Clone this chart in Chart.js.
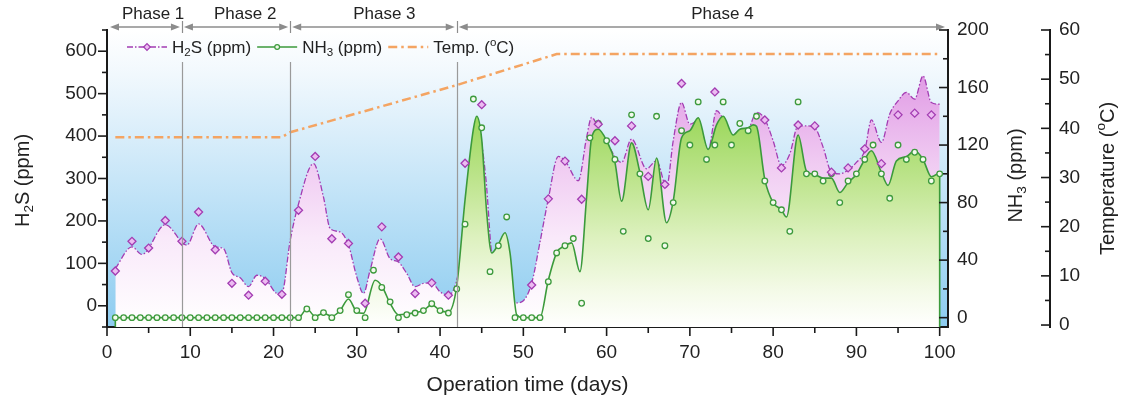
<!DOCTYPE html>
<html>
<head>
<meta charset="utf-8">
<script src="https://cdn.jsdelivr.net/npm/chart.js@4.4.1/dist/chart.umd.min.js"></script>
<style>
  html, body { margin: 0; padding: 0; background: #fff; }
  #grafico { display: block; }
</style>
</head>
<body>
<canvas id="grafico" width="1121" height="406"></canvas>
<script>
var fonte = '"Liberation Sans", Arial, sans-serif';

// H2S medido (pontos)
var h2sDias = [1, 3, 5, 7, 9, 11, 13, 15, 17, 19, 21, 23, 25, 27, 29, 31, 33, 35, 37, 39, 41, 43, 45,
  51, 53, 55, 57, 59, 61, 63, 65, 67, 69, 73, 79, 81, 83, 85, 87, 89, 91, 93, 95, 97, 99];
var h2sPpm = [82, 152, 136, 201, 152, 221, 132, 53, 25, 58, 27, 225, 352, 158, 147, 6, 186, 115, 29, 54, 25, 336, 474,
  49, 252, 341, 251, 428, 389, 424, 305, 286, 524, 504, 438, 325, 426, 424, 315, 325, 370, 335, 450, 454, 450];

// curva suavizada do H2S
var h2sCurvaDias = [1, 3, 4.2, 7, 9.6, 11, 13, 14, 15, 16, 17, 18, 19, 20.5, 21, 22, 23, 24.8, 26, 26.8, 28, 29, 30, 30.8,
  31.6, 32.8, 34, 35, 36, 37, 38, 39, 40, 41, 42, 43, 44, 44.6, 45.5, 46.2, 47, 48, 49.2, 50, 51, 52, 53, 54.2, 55,
  56.6, 57.6, 58.2, 59, 60, 61.8, 63, 64.8, 66, 67.2, 68, 69, 70, 71, 72.2, 73.2, 74, 75, 76, 77, 78, 79, 80, 81, 82,
  83, 84, 85, 86, 87, 88, 89, 90, 91, 91.8, 93, 94, 95, 96, 97, 98, 99, 100];
var h2sCurvaPpm = [88, 139, 121, 191, 143, 193, 139, 135, 78, 66, 45, 72, 64, 29, 30, 154, 240, 335, 256, 182, 174, 143, 68, 29,
  84, 158, 111, 103, 76, 45, 53, 54, 33, 25, 60, 180, 370, 410, 300, 120, 60, 30, 7, 12, 53, 150, 252, 352, 342,
  295, 397, 444, 420, 385, 338, 393, 323, 342, 280, 389, 479, 428, 436, 366, 460, 440, 401, 413, 417, 456, 440, 389, 330, 358,
  424, 424, 420, 374, 315, 311, 320, 338, 366, 438, 385, 452, 483, 503, 487, 542, 479, 475];

// NH3 medido todo dia (dia 1 a 100)
var nh3Ppm = [0, 0, 0, 0, 0, 0, 0, 0, 0, 0, 0, 0, 0, 0, 0, 0, 0, 0, 0, 0, 0, 0,
  0, 6, 0, 3.5, 0, 4.9, 16, 4.9, 0, 33, 21, 11, 0, 2, 3.2, 4.9, 9.7, 4.9, 3.2, 20,
  65, 152, 132, 32, 50, 70, 0, 0, 0, 0, 25, 45, 50, 55, 10, 125, 135, 123,
  110, 60, 141, 100, 55, 140, 50, 80, 130, 120, 150, 110, 120, 150, 120, 135, 130, 140, 95, 80,
  75, 60, 150, 100, 100, 95, 100, 80, 95, 100, 110, 120, 100, 83, 120, 110, 115, 110, 95, 100];
var nh3Dias = nh3Ppm.map(function (v, i) { return i + 1; });

// curva suavizada do NH3
var nh3CurvaDias = [1, 23, 24, 25, 26, 27, 28, 29, 30, 30.8, 32.2, 33, 34, 35, 36, 37, 38, 39, 40, 41, 42, 43, 44, 44.4,
  45, 45.6, 46.2, 47, 47.8, 48.4, 49.2, 50, 52, 53, 54, 55, 55.8, 56.8, 57.6, 58.2, 59, 60, 61, 61.8, 63, 64, 65, 66,
  67.2, 68, 69, 70, 71, 72.2, 73.2, 74, 75.2, 76, 77, 77.6, 78, 79, 80, 81, 81.6, 83, 84, 85, 86, 87, 88, 89, 90, 91,
  91.8, 93, 93.8, 94.8, 96, 97, 98, 99, 100];
var nh3CurvaPpm = [0, 0, 6, 1, 3, 1, 5, 13, 4, 3, 26, 22, 10, 2, 2.5, 3.5, 5, 9, 5, 4, 22, 82, 131, 140,
  124, 73, 45, 51, 59, 45, 2, 0, 0, 26, 45, 50, 52, 32, 84, 125, 131, 123, 108, 81, 121.5, 101, 75, 111,
  66, 81, 125, 130, 139, 117, 134, 140, 127, 131, 132, 134, 133, 96, 80, 75, 70, 127, 102, 99.5, 97, 97, 87, 94, 99.5, 110,
  116, 101, 92, 109, 112, 116, 110, 98, 101];
// bordas verticais da área do NH3
var nh3BordaDias = [1, 1, 1, 100, 100];
var nh3BordaPpm = [0, -6.5, null, -6.5, 101];

// temperatura
var tempDias = [1, 21, 22, 42, 54, 100];
var tempC = [38.2, 38.2, 39.2, 48.8, 55.1, 55.1];

// fases
var faseLimites = [0, 9, 22, 42, 100];
var faseNomes = ['Phase 1', 'Phase 2', 'Phase 3', 'Phase 4'];

// marcas dos eixos
var xTicks = [0, 10, 20, 30, 40, 50, 60, 70, 80, 90, 100];
var h2sTicks = [0, 100, 200, 300, 400, 500, 600];
var nh3Ticks = [0, 40, 80, 120, 160, 200];
var tempTicks = [0, 10, 20, 30, 40, 50, 60];

function pares(xs, ys) {
  return xs.map(function (x, i) { return { x: x, y: ys[i] }; });
}

function degrade(paradas) {
  return function (c) {
    var a = c.chart.chartArea;
    if (!a) return 'transparent';
    var g = c.chart.ctx.createLinearGradient(0, a.top, 0, a.bottom);
    paradas.forEach(function (p) { g.addColorStop(p[0], p[1]); });
    return g;
  };
}

// texto com subscrito / sobrescrito
function textoRico(ctx, partes, x, y, tam, centro) {
  var larg = 0;
  partes.forEach(function (p) {
    ctx.font = (p[1] ? tam * 0.68 : tam) + 'px ' + fonte;
    larg += ctx.measureText(p[0]).width;
  });
  var px = centro ? x - larg / 2 : x;
  ctx.textBaseline = 'middle';
  ctx.textAlign = 'left';
  partes.forEach(function (p) {
    ctx.font = (p[1] ? tam * 0.68 : tam) + 'px ' + fonte;
    var dy = p[1] === 'sub' ? tam * 0.3 : (p[1] === 'sup' ? -tam * 0.32 : 0);
    ctx.fillText(p[0], px, y + dy);
    px += ctx.measureText(p[0]).width;
  });
  return px;
}

function meios(vals) {
  var r = [];
  for (var i = 1; i < vals.length; i++) r.push((vals[i - 1] + vals[i]) / 2);
  return r;
}

function seta(ctx, x, y, dir) {
  ctx.beginPath();
  ctx.moveTo(x, y);
  ctx.lineTo(x - dir * 9, y - 3.5);
  ctx.lineTo(x - dir * 9, y + 3.5);
  ctx.closePath();
  ctx.fill();
}

function losango(ctx, x, y, r) {
  ctx.beginPath();
  ctx.moveTo(x - r, y); ctx.lineTo(x, y - r); ctx.lineTo(x + r, y); ctx.lineTo(x, y + r);
  ctx.closePath();
}

// fundo azul do grafico
var fundo = {
  id: 'fundo',
  beforeDraw: function (chart) {
    var a = chart.chartArea, ctx = chart.ctx;
    var g = ctx.createLinearGradient(0, a.top, 0, a.bottom);
    g.addColorStop(0, '#ffffff');
    g.addColorStop(0.15, '#f1f8fd');
    g.addColorStop(0.5, '#c8e6f8');
    g.addColorStop(1, '#8dccf0');
    ctx.save();
    ctx.fillStyle = g;
    ctx.fillRect(a.left, a.top, a.right - a.left, a.bottom - a.top);
    ctx.restore();
  }
};

// fases, legenda, titulos e marcas
var enfeites = {
  id: 'enfeites',
  afterDatasetsDraw: function (chart) {
    var ctx = chart.ctx, a = chart.chartArea, sx = chart.scales.x;
    ctx.save();
    ctx.strokeStyle = '#9a9a9a';
    ctx.lineWidth = 1.2;
    for (var i = 1; i < faseLimites.length - 1; i++) {
      var px = Math.round(sx.getPixelForValue(faseLimites[i])) + 0.5;
      ctx.beginPath();
      ctx.moveTo(px, a.top + 32);
      ctx.lineTo(px, a.bottom);
      ctx.stroke();
    }
    ctx.restore();
  },
  afterDraw: function (chart) {
    var ctx = chart.ctx, a = chart.chartArea, s = chart.scales;
    ctx.save();

    // setas das fases
    var ySeta = 27;
    ctx.fillStyle = '#8c8c8c';
    ctx.strokeStyle = '#8c8c8c';
    for (var i = 0; i < faseNomes.length; i++) {
      var xa = i === 0 ? a.left + 3 : s.x.getPixelForValue(faseLimites[i]) + 2;
      var xb = i === faseNomes.length - 1 ? a.right - 3 : s.x.getPixelForValue(faseLimites[i + 1]) - 2;
      ctx.lineWidth = 1.5;
      ctx.beginPath();
      ctx.moveTo(xa + 4, ySeta);
      ctx.lineTo(xb - 4, ySeta);
      ctx.stroke();
      seta(ctx, xa, ySeta, -1);
      seta(ctx, xb, ySeta, 1);
      if (i > 0) {
        var xl = Math.round(s.x.getPixelForValue(faseLimites[i])) + 0.5;
        ctx.lineWidth = 1.2;
        ctx.beginPath();
        ctx.moveTo(xl, 21);
        ctx.lineTo(xl, 33);
        ctx.stroke();
      }
      ctx.fillStyle = '#222';
      ctx.font = '17px ' + fonte;
      ctx.textAlign = 'center';
      ctx.textBaseline = 'middle';
      ctx.fillText(faseNomes[i], (xa + xb) / 2 + 6 + 0.03 * (xb - xa), 14);
      ctx.fillStyle = '#8c8c8c';
    }

    // marcas dos eixos (maiores e menores)
    ctx.strokeStyle = '#1a1a1a';
    ctx.lineWidth = 1.6;
    function marcasV(esc, xLinha, vals, comp) {
      vals.forEach(function (v) {
        var p = esc.getPixelForValue(v);
        ctx.beginPath();
        ctx.moveTo(xLinha - comp, p);
        ctx.lineTo(xLinha, p);
        ctx.stroke();
      });
    }
    function marcasH(esc, yLinha, vals, comp) {
      vals.forEach(function (v) {
        var p = esc.getPixelForValue(v);
        ctx.beginPath();
        ctx.moveTo(p, yLinha);
        ctx.lineTo(p, yLinha + comp);
        ctx.stroke();
      });
    }
    marcasV(s.y, s.y.right, h2sTicks, 9);
    marcasV(s.y, s.y.right, meios(h2sTicks).concat([s.y.min, s.y.max]), 5);
    marcasV(s.yN, s.yN.left, nh3Ticks, 9);
    marcasV(s.yN, s.yN.left, meios(nh3Ticks), 5);
    marcasV(s.yT, s.yT.left, tempTicks, 9);
    marcasV(s.yT, s.yT.left, meios(tempTicks), 5);
    marcasH(s.x, s.x.top, xTicks, 9);
    marcasH(s.x, s.x.top, meios(xTicks), 6);

    // titulos dos eixos
    ctx.fillStyle = '#222';
    var meioY = (a.top + a.bottom) / 2;
    ctx.save();
    ctx.translate(23, meioY + 2);
    ctx.rotate(-Math.PI / 2);
    textoRico(ctx, [['H', ''], ['2', 'sub'], ['S (ppm)', '']], 0, 0, 20, true);
    ctx.restore();
    ctx.save();
    ctx.translate(1016, meioY - 3);
    ctx.rotate(-Math.PI / 2);
    textoRico(ctx, [['NH', ''], ['3', 'sub'], [' (ppm)', '']], 0, 0, 20, true);
    ctx.restore();
    ctx.save();
    ctx.translate(1108, meioY);
    ctx.rotate(-Math.PI / 2);
    textoRico(ctx, [['Temperature (', ''], ['o', 'sup'], ['C)', '']], 0, 0, 20, true);
    ctx.restore();

    // legenda
    var lx = a.left + 20, ly = 47;
    var itens = [
      { partes: [['H', ''], ['2', 'sub'], ['S (ppm)', '']], cor: '#a33cb2', traco: [6, 2, 1.5, 2], larg: 1.3, marca: 'losango' },
      { partes: [['NH', ''], ['3', 'sub'], [' (ppm)', '']], cor: '#3b9a3b', traco: [], larg: 1.6, marca: 'circulo' },
      { partes: [['Temp. (', ''], ['o', 'sup'], ['C)', '']], cor: '#f4a462', traco: [9, 4, 2.5, 4], larg: 2.5, marca: '' }
    ];
    itens.forEach(function (it) {
      ctx.strokeStyle = it.cor;
      ctx.lineWidth = it.larg;
      ctx.setLineDash(it.traco);
      ctx.beginPath();
      ctx.moveTo(lx, ly);
      ctx.lineTo(lx + 40, ly);
      ctx.stroke();
      ctx.setLineDash([]);
      ctx.lineWidth = 1.2;
      if (it.marca === 'losango') {
        losango(ctx, lx + 20, ly, 3.3);
        ctx.fillStyle = '#ecbcf2';
        ctx.fill();
        ctx.stroke();
      } else if (it.marca === 'circulo') {
        ctx.beginPath();
        ctx.arc(lx + 20, ly, 2.4, 0, Math.PI * 2);
        ctx.fillStyle = '#f0f8ea';
        ctx.fill();
        ctx.stroke();
      }
      ctx.fillStyle = '#222';
      lx = textoRico(ctx, it.partes, lx + 45, ly + 1, 17, false) + 6;
    });

    ctx.restore();
  }
};

var corEixo = '#1a1a1a';
var corTexto = '#222';

var ctx = document.getElementById('grafico').getContext('2d');
var chart = new Chart(ctx, {
  type: 'line',
  data: {
    datasets: [
      {
        label: 'H2S (ppm)',
        data: pares(h2sDias, h2sPpm),
        yAxisID: 'y',
        showLine: false,
        pointStyle: 'rectRot',
        pointRadius: 4,
        pointBorderWidth: 1.3,
        pointBorderColor: '#a33cb2',
        pointBackgroundColor: '#ecbcf2',
        order: 0
      },
      {
        label: 'NH3 (ppm)',
        data: pares(nh3Dias, nh3Ppm),
        yAxisID: 'yN',
        showLine: false,
        pointStyle: 'circle',
        pointRadius: 2.8,
        pointBorderWidth: 1.3,
        pointBorderColor: '#3d9a3d',
        pointBackgroundColor: '#f4faee',
        order: 1
      },
      {
        label: 'Temp. (oC)',
        data: pares(tempDias, tempC),
        yAxisID: 'yT',
        borderColor: '#f4a462',
        borderWidth: 2.5,
        borderDash: [9, 4, 2.5, 4],
        pointRadius: 0,
        tension: 0,
        fill: false,
        order: 2
      },
      {
        label: 'NH3 borda',
        data: pares(nh3BordaDias, nh3BordaPpm),
        yAxisID: 'yN',
        borderColor: '#3b9a3b',
        borderWidth: 1.6,
        pointRadius: 0,
        spanGaps: false,
        fill: false,
        order: 3
      },
      {
        label: 'NH3 curva',
        data: pares(nh3CurvaDias, nh3CurvaPpm),
        yAxisID: 'yN',
        borderColor: '#3b9a3b',
        borderWidth: 1.6,
        pointRadius: 0,
        cubicInterpolationMode: 'monotone',
        fill: 'start',
        backgroundColor: degrade([[0, '#86cc3e'], [0.3, '#9dd85e'], [0.5, '#bde48c'], [0.7, '#ddf1bf'], [0.88, '#f4fae8'], [1, '#ffffff']]),
        order: 4
      },
      {
        label: 'H2S curva',
        data: pares(h2sCurvaDias, h2sCurvaPpm),
        yAxisID: 'y',
        borderColor: '#a33cb2',
        borderWidth: 1.3,
        borderDash: [6, 2, 1.5, 2],
        pointRadius: 0,
        cubicInterpolationMode: 'monotone',
        fill: 'start',
        backgroundColor: degrade([[0, '#d682de'], [0.2, '#e3a3e7'], [0.45, '#f0cbf2'], [0.7, '#f9e9fa'], [1, '#ffffff']]),
        order: 5
      }
    ]
  },
  options: {
    responsive: false,
    animation: false,
    layout: { padding: { top: 30, left: 0, right: 0, bottom: 0 } },
    plugins: {
      legend: { display: false },
      tooltip: { enabled: false }
    },
    scales: {
      x: {
        type: 'linear',
        position: 'bottom',
        min: 0,
        max: 101,
        afterBuildTicks: function (e) { e.ticks = xTicks.map(function (v) { return { value: v }; }); },
        afterFit: function (e) { e.height = 79; },
        grid: { display: false, drawTicks: false },
        border: { display: true, color: corEixo, width: 2 },
        ticks: { color: corTexto, padding: 14, font: { family: fonte, size: 19 } },
        title: { display: true, text: 'Operation time (days)', color: corTexto, font: { family: fonte, size: 21 }, padding: { top: 0, bottom: 8 } }
      },
      y: {
        type: 'linear',
        position: 'left',
        min: -50,
        max: 650,
        afterBuildTicks: function (e) { e.ticks = h2sTicks.map(function (v) { return { value: v }; }); },
        afterFit: function (e) { e.width = 107; },
        grid: { display: false, drawTicks: false },
        border: { display: true, color: corEixo, width: 2 },
        ticks: { color: corTexto, padding: 10, font: { family: fonte, size: 19 } }
      },
      yN: {
        type: 'linear',
        position: 'right',
        weight: 0,
        min: -6.5,
        max: 200,
        afterBuildTicks: function (e) { e.ticks = nh3Ticks.map(function (v) { return { value: v }; }); },
        afterFit: function (e) { e.width = 102; },
        grid: { display: false, drawTicks: false },
        border: { display: true, color: corEixo, width: 2 },
        ticks: { color: corTexto, padding: 9, font: { family: fonte, size: 19 } }
      },
      yT: {
        type: 'linear',
        position: 'right',
        weight: 1,
        min: -0.4,
        max: 60,
        afterBuildTicks: function (e) { e.ticks = tempTicks.map(function (v) { return { value: v }; }); },
        afterFit: function (e) { e.width = 71; },
        grid: { display: false, drawTicks: false },
        border: { display: true, color: corEixo, width: 2 },
        ticks: { color: corTexto, padding: 9, font: { family: fonte, size: 19 } }
      }
    }
  },
  plugins: [fundo, enfeites]
});
</script>
</body>
</html>
